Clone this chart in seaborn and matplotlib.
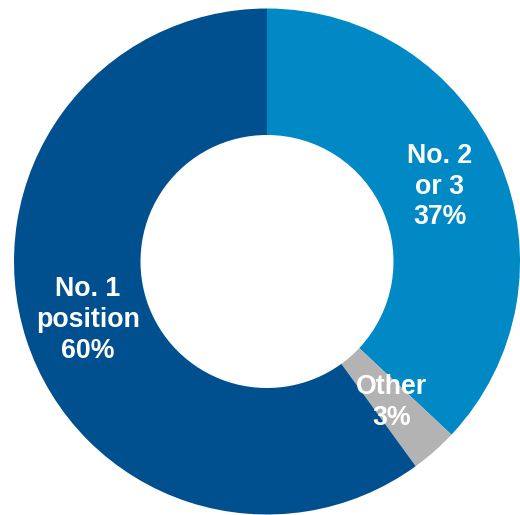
import matplotlib
matplotlib.use("Agg")
import matplotlib.pyplot as plt
import seaborn as sns

# Share of positions held
categories = ["No. 2\nor 3", "Other", "No. 1\nposition"]
values = [37, 3, 60]
colors = ["#0089C4", "#B3B3B3", "#00508F"]

sns.set_theme(style="white")
plt.rcParams["font.family"] = ["Liberation Sans", "DejaVu Sans"]

W, H, DPI = 520, 515, 100
fig = plt.figure(figsize=(W / DPI, H / DPI), dpi=DPI)
ax = fig.add_axes([0, 0, 1, 1])

labels = [f"{c}\n{v}%" for c, v in zip(categories, values)]
wedges, texts = ax.pie(
    values,
    labels=labels,
    colors=colors,
    startangle=90,
    counterclock=False,
    radius=1.0,
    labeldistance=0.745,
    wedgeprops=dict(width=0.5, linewidth=0),
    textprops=dict(color="white", fontsize=19.3, fontweight="bold"),
)
for t in texts:
    t.set_horizontalalignment("center")
    t.set_verticalalignment("center")
    t.set_linespacing(1.24)

# Place the ring: centre at (267, 261.5) px, radius 253 px
scale = 253.0
cx, cy = 267.0, 261.5
ax.set_xlim(-cx / scale, (W - cx) / scale)
ax.set_ylim(-(H - cy) / scale, cy / scale)
ax.set_aspect("auto")
ax.axis("off")

fig.savefig("out.png", dpi=DPI, facecolor="white")
